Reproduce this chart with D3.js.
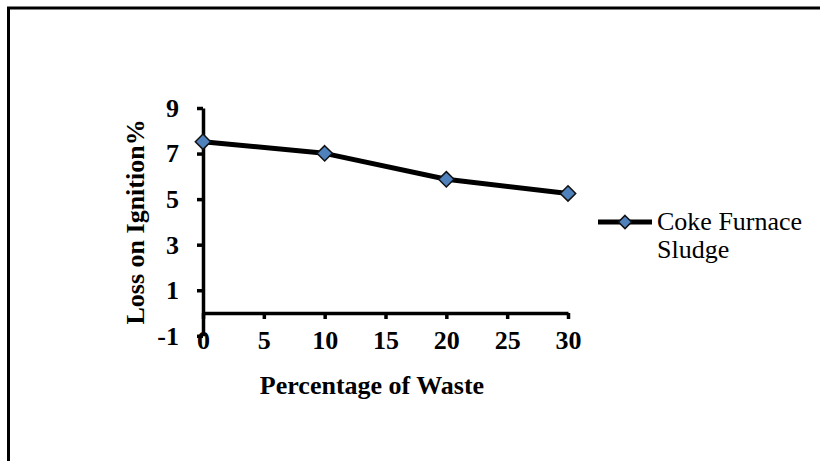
<!DOCTYPE html>
<html>
<head>
<meta charset="utf-8">
<script src="https://cdn.jsdelivr.net/npm/d3@7"></script>
<style>
  html, body { margin: 0; padding: 0; background: #fff; }
  svg { display: block; }
  text { font-family: "Liberation Serif", "Times New Roman", serif; fill: #000; }
</style>
</head>
<body>
<svg id="chart" width="820" height="461"></svg>
<script>
// Loss on ignition vs. waste replacement level
const wastePercent = [0, 10, 20, 30];
const lossOnIgnition = [7.52, 7.01, 5.87, 5.25];
const seriesName = ["Coke Furnace", "Sludge"];
const xTicks = [0, 5, 10, 15, 20, 25, 30];
const yTicks = [-1, 1, 3, 5, 7, 9];

const FONT = "Liberation Serif, Times New Roman, serif";
const FS = 26;

const svg = d3.select("#chart");
svg.append("rect").attr("width", 820).attr("height", 461).attr("fill", "#fff");

// outer frame (top and left edges)
svg.append("path")
  .attr("d", "M8.5,461 L8.5,8 L820,8")
  .attr("fill", "none").attr("stroke", "#000").attr("stroke-width", 3);

const x = d3.scaleLinear().domain([0, 30]).range([203, 568]);
const y = d3.scaleLinear().domain([-1, 9]).range([335.8, 108]);

const diamond = d3.symbol().type(d3.symbolDiamond2).size(150);
const plain = d => String(d);

// x axis, drawn through y = 0
const xAxis = svg.append("g")
  .attr("transform", `translate(0,${y(0)})`)
  .call(d3.axisBottom(x).tickValues(xTicks).tickFormat(plain)
    .tickSize(6).tickSizeOuter(0).tickPadding(12));
xAxis.select(".domain").attr("stroke", "#000").attr("stroke-width", 3.5);
xAxis.selectAll(".tick line").attr("stroke", "#000").attr("stroke-width", 3.5);
xAxis.selectAll(".tick text")
  .attr("font-family", FONT)
  .attr("font-size", FS).attr("font-weight", "bold").attr("fill", "#000");

// y axis
const yAxis = svg.append("g")
  .attr("transform", `translate(${x(0)},0)`)
  .call(d3.axisLeft(y).tickValues(yTicks).tickFormat(plain)
    .tickSize(6).tickSizeOuter(0).tickPadding(18));
yAxis.select(".domain").attr("stroke", "#000").attr("stroke-width", 3.5);
yAxis.selectAll(".tick line").attr("stroke", "#000").attr("stroke-width", 3.5);
yAxis.selectAll(".tick text")
  .attr("font-family", FONT)
  .attr("font-size", FS).attr("font-weight", "bold").attr("fill", "#000");

// axis titles
svg.append("text")
  .attr("x", 372).attr("y", 394)
  .attr("text-anchor", "middle")
  .attr("font-size", FS).attr("font-weight", "bold")
  .text("Percentage of Waste");

svg.append("text")
  .attr("transform", `translate(144,${(y(9) + y(-1)) / 2}) rotate(-90)`)
  .attr("text-anchor", "middle")
  .attr("font-size", FS).attr("font-weight", "bold")
  .text("Loss on Ignition%");

// data series
const pts = wastePercent.map((w, i) => [w, lossOnIgnition[i]]);
svg.append("path")
  .datum(pts)
  .attr("d", d3.line().x(d => x(d[0])).y(d => y(d[1])))
  .attr("fill", "none").attr("stroke", "#000").attr("stroke-width", 5)
  .attr("stroke-linejoin", "round");

svg.selectAll(".marker")
  .data(pts)
  .join("path")
  .attr("class", "marker")
  .attr("transform", d => `translate(${x(d[0])},${y(d[1])})`)
  .attr("d", diamond)
  .attr("fill", "#4f81bd").attr("stroke", "#111").attr("stroke-width", 1.5);

// legend
const lg = svg.append("g").attr("transform", "translate(598,222)");
lg.append("line").attr("x1", 0).attr("x2", 54).attr("y1", 0).attr("y2", 0)
  .attr("stroke", "#000").attr("stroke-width", 5);
lg.append("path").attr("transform", "translate(27,0)")
  .attr("d", d3.symbol().type(d3.symbolDiamond2).size(110))
  .attr("fill", "#4f81bd").attr("stroke", "#111").attr("stroke-width", 1.5);
lg.selectAll(".lt")
  .data(seriesName)
  .join("text")
  .attr("class", "lt")
  .attr("x", 59).attr("y", (d, i) => 8 + i * 28)
  .attr("font-size", FS)
  .text(d => d);
</script>
</body>
</html>
